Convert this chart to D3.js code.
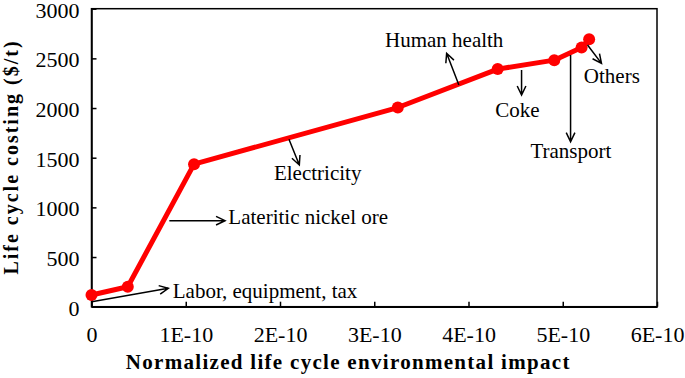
<!DOCTYPE html>
<html><head><meta charset="utf-8">
<script src="https://cdn.jsdelivr.net/npm/d3@7"></script>
<style>body{margin:0;background:#fff}svg{display:block}</style>
</head><body><svg id="c" width="685" height="378" font-family="'Liberation Serif', 'Times New Roman', serif"></svg>
<script>
// Data
const impact = [0, 0.385e-10, 1.088e-10, 3.25e-10, 4.31e-10, 4.91e-10, 5.2e-10, 5.28e-10];
const cost   = [118, 201, 1435, 2005, 2392, 2482, 2610, 2692];
const xTicks = [0, 1e-10, 2e-10, 3e-10, 4e-10, 5e-10, 6e-10];
const xTickLabels = ["0", "1E-10", "2E-10", "3E-10", "4E-10", "5E-10", "6E-10"];
const yTicks = [0, 500, 1000, 1500, 2000, 2500, 3000];
const labels = ["Labor, equipment, tax", "Lateritic nickel ore", "Electricity", "Human health", "Coke", "Transport", "Others"];
// arrows in data units: [x1, y1, x2, y2]
const arrows = [
  [0.003e-10, 50, 0.815e-10, 185],
  [0.826e-10, 866, 1.417e-10, 866],
  [2.095e-10, 1685, 2.205e-10, 1427],
  [3.898e-10, 2232, 3.768e-10, 2551],
  [4.563e-10, 2383, 4.563e-10, 2131],
  [5.083e-10, 2534, 5.083e-10, 1661],
  [5.263e-10, 2635, 5.411e-10, 2450]
];
// label anchors in data units: [x, y, anchor]
const labelPos = [
  [0.862e-10, 88, "start"],
  [1.452e-10, 833, "start"],
  [1.936e-10, 1276, "start"],
  [3.114e-10, 2618, "start"],
  [4.518e-10, 1906, "middle"],
  [5.086e-10, 1500, "middle"],
  [5.224e-10, 2249, "start"]
];

const FONT = "'Liberation Serif', 'Times New Roman', serif";
const svg = d3.select("#c");
const L = 91.5, R = 657, T = 8.7, B = 306.7;
const x = d3.scaleLinear().domain([0, 6e-10]).range([L, R]);
const y = d3.scaleLinear().domain([0, 3000]).range([B, T]);

// frame
svg.append("rect").attr("x", L).attr("y", T).attr("width", R - L).attr("height", B - T)
  .attr("fill", "none").attr("stroke", "#000").attr("stroke-width", 1.5);

const xAxis = svg.append("g").attr("transform", `translate(0,${B})`)
  .call(d3.axisBottom(x).tickValues(xTicks).tickSizeInner(-5).tickSizeOuter(0).tickPadding(20)
    .tickFormat((d, i) => xTickLabels[i]));
xAxis.attr("font-family", FONT);
xAxis.select(".domain").attr("stroke-width", 1.5);
xAxis.selectAll(".tick line").attr("stroke-width", 1.5);
xAxis.selectAll("text").attr("font-size", 22).attr("fill", "#000");

const yAxis = svg.append("g").attr("transform", `translate(${L},0)`)
  .call(d3.axisLeft(y).tickValues(yTicks).tickSizeInner(-5).tickSizeOuter(0).tickPadding(12)
    .tickFormat(d3.format("d")));
yAxis.attr("font-family", FONT);
yAxis.select(".domain").attr("stroke-width", 1.5);
yAxis.selectAll(".tick line").attr("stroke-width", 1.5);
yAxis.selectAll("text").attr("font-size", 22).attr("fill", "#000").attr("dy", "0.38em");

// axis titles
svg.append("text").attr("x", (L + R) / 2 - 26).attr("y", 369).attr("text-anchor", "middle")
  .attr("font-size", 21).attr("font-weight", "bold").attr("letter-spacing", 1.3)
  .text("Normalized life cycle environmental impact");
svg.append("text").attr("transform", "translate(18,157) rotate(-90)").attr("text-anchor", "middle")
  .attr("font-size", 20).attr("font-weight", "bold").attr("letter-spacing", 2.0)
  .text("Life cycle costing ($/t)");

// line
const pts = impact.map((v, i) => [v, cost[i]]);
svg.append("path").datum(pts)
  .attr("d", d3.line().x(d => x(d[0])).y(d => y(d[1])))
  .attr("fill", "none").attr("stroke", "#ff0000").attr("stroke-width", 5).attr("stroke-linejoin", "round");
svg.selectAll("circle.pt").data(pts).join("circle").attr("class", "pt")
  .attr("cx", d => x(d[0])).attr("cy", d => y(d[1])).attr("r", 6).attr("fill", "#ff0000");

// arrows
const head = 10, ang = Math.PI / 7;
arrows.forEach(a => {
  const x1 = x(a[0]), y1 = y(a[1]), x2 = x(a[2]), y2 = y(a[3]);
  const th = Math.atan2(y2 - y1, x2 - x1);
  const p = d3.path();
  p.moveTo(x1, y1); p.lineTo(x2, y2);
  p.moveTo(x2 - head * Math.cos(th - ang), y2 - head * Math.sin(th - ang));
  p.lineTo(x2, y2);
  p.lineTo(x2 - head * Math.cos(th + ang), y2 - head * Math.sin(th + ang));
  svg.append("path").attr("d", p.toString()).attr("fill", "none").attr("stroke", "#000").attr("stroke-width", 1.5);
});
labels.forEach((t, i) => {
  const lp = labelPos[i];
  svg.append("text").attr("x", x(lp[0])).attr("y", y(lp[1])).attr("text-anchor", lp[2])
    .attr("font-size", 21).text(t);
});
</script></body></html>
